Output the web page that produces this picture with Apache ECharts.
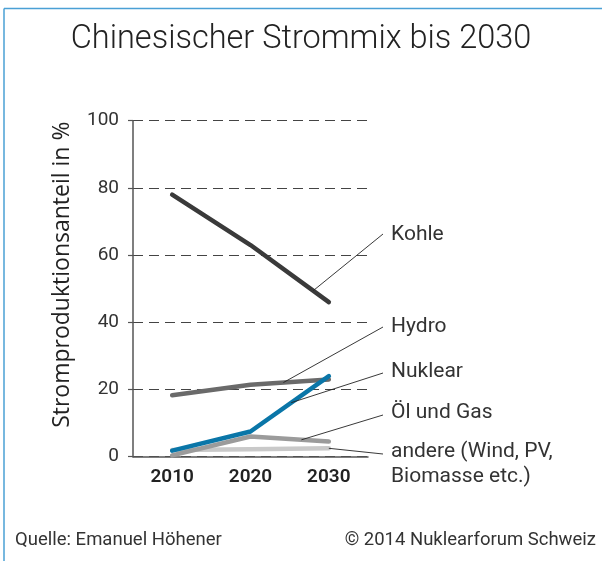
<!DOCTYPE html>
<html lang="de">
<head>
<meta charset="UTF-8" />
<title>Chinesischer Strommix bis 2030</title>
<script src="https://cdn.jsdelivr.net/npm/echarts@6/dist/echarts.min.js"></script>
<style>
  html, body { margin: 0; padding: 0; background: #fff; }
  #chart { width: 602px; height: 561px; }
</style>
</head>
<body>
<div id="chart"></div>
<script>
const categories = ['2010', '2020', '2030'];
const yTicks = [0, 20, 40, 60, 80, 100];

const kohle = [78, 63, 46];
const hydro = [18.3, 21.4, 23];
const nuklear = [1.8, 7.5, 24];
const oelGas = [0.4, 6, 4.5];
const andere = [2, 2.2, 2.5];

const labelNames = ['Kohle', 'Hydro', 'Nuklear', 'Öl und Gas', 'andere (Wind, PV,\nBiomasse etc.)'];

const font = 'Roboto, "Noto Sans", sans-serif';
const chart = echarts.init(document.getElementById('chart'));

const line = (name, data, color) => ({
    name: name,
    type: 'line',
    data: data,
    showSymbol: false,
    symbol: 'none',
    lineStyle: { color: color, width: 4.5, cap: 'round', join: 'round' },
    itemStyle: { color: color },
    silent: true,
    animation: false
});

const option = {
    animation: false,
    grid: { left: 133, right: 234, top: 120.7, bottom: 104.3 },
    title: {
        text: 'Chinesischer Strommix bis 2030',
        left: 'center',
        top: 18,
        textStyle: { fontFamily: font, fontWeight: 300, fontSize: 32.5, color: '#222' }
    },
    xAxis: {
        type: 'category',
        data: categories,
        boundaryGap: true,
        axisLine: { lineStyle: { color: '#555', width: 1.5 } },
        axisTick: { alignWithLabel: true, length: 6, lineStyle: { color: '#555', width: 1.2 } },
        axisLabel: { fontFamily: font, fontSize: 19, fontWeight: 600, color: '#222', margin: 11 },
        splitLine: { show: false }
    },
    yAxis: {
        type: 'value',
        min: yTicks[0],
        max: yTicks[yTicks.length - 1],
        interval: 20,
        name: 'Stromproduktionsanteil in %',
        nameLocation: 'middle',
        nameRotate: 90,
        nameGap: 59,
        nameTextStyle: { fontFamily: '"Open Sans", Roboto, sans-serif', fontSize: 23, fontWeight: 500, color: '#222', padding: [0, 0, 0, 28] },
        axisLine: { show: true, lineStyle: { color: '#555', width: 1.5 } },
        axisTick: { show: true, length: 5, lineStyle: { color: '#555', width: 1.2 } },
        axisLabel: { fontFamily: font, fontSize: 19, color: '#333', margin: 14 },
        splitLine: { show: true, lineStyle: { color: '#444', type: [10, 6], width: 1.2 } }
    },
    series: [
        line('andere', andere, '#c9c9c9'),
        line('Öl und Gas', oelGas, '#9b9b9b'),
        line('Hydro', hydro, '#6a6a6a'),
        line('Kohle', kohle, '#3a3a3a'),
        line('Nuklear', nuklear, '#0a76a8')
    ]
};
chart.setOption(option);

// leader lines: from a point on each series line to its label
const leaders = [
    { data: kohle, seg: 1, t: 0.8, y: 234 },
    { data: hydro, seg: 1, t: 0.42, y: 327 },
    { data: nuklear, seg: 1, t: 0.52, y: 373 },
    { data: oelGas, seg: 1, t: 0.65, y: 415 },
    { data: andere, seg: 1, t: 1.0, y: 454 }
];
const labelY = [235, 327, 372, 413, 452];

const graphics = [];
leaders.forEach((l, i) => {
    const a = chart.convertToPixel({ gridIndex: 0 }, [l.seg, l.data[l.seg]]);
    const b = chart.convertToPixel({ gridIndex: 0 }, [l.seg + 1, l.data[l.seg + 1]]);
    const px = a[0] + (b[0] - a[0]) * l.t;
    const py = a[1] + (b[1] - a[1]) * l.t;
    graphics.push({
        type: 'line',
        shape: { x1: px, y1: py, x2: 383, y2: l.y },
        style: { stroke: '#222', lineWidth: 0.9 },
        z: 10
    });
    graphics.push({
        type: 'text',
        left: 391,
        top: labelY[i] - 12.5,
        style: { text: labelNames[i], font: '21px ' + font, fill: '#333', lineHeight: 25 },
        z: 10
    });
});

// frame and footer
graphics.push(
    { type: 'line', shape: { x1: 4, y1: 8.5, x2: 602, y2: 8.5 }, style: { stroke: '#4aa0d5', lineWidth: 1.5 } },
    { type: 'line', shape: { x1: 4, y1: 8.5, x2: 4, y2: 561 }, style: { stroke: '#4aa0d5', lineWidth: 1.5 } },
    { type: 'text', left: 15, top: 531, style: { text: 'Quelle: Emanuel Höhener', font: '18.5px ' + font, fill: '#333' } },
    { type: 'text', right: 6, top: 531, style: { text: '© 2014 Nuklearforum Schweiz', font: '18.5px ' + font, fill: '#333' } }
);

chart.setOption({ graphic: graphics });
</script>
</body>
</html>
